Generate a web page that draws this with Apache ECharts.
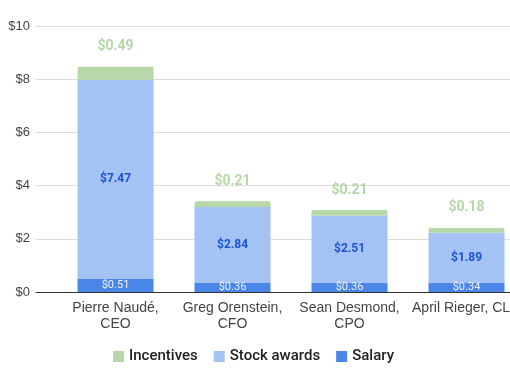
<!DOCTYPE html>
<html><head><meta charset="utf-8">
<script src="https://cdn.jsdelivr.net/npm/echarts@6/dist/echarts.min.js"></script>
<style>html,body{margin:0;padding:0;background:#fff;overflow:hidden;width:510px;height:382px}#c{width:525px;height:382px}</style>
</head><body><div id="c"></div>
<script>
var categories = ['Pierre Naudé,\nCEO', 'Greg Orenstein,\nCFO', 'Sean Desmond,\nCPO', 'April Rieger, CLO'];
var salary = [0.51, 0.36, 0.36, 0.34];
var stockAwards = [7.47, 2.84, 2.51, 1.89];
var incentives = [0.49, 0.21, 0.21, 0.18];
var yTicks = [0, 2, 4, 6, 8, 10];

var chart = echarts.init(document.getElementById('c'));
var fmt = function (p) { return '$' + p.value.toFixed(2); };
var axisFont = 'Arial, "Liberation Sans", sans-serif';
chart.setOption({
  animation: false,
  grid: [
    { left: 57, right: 0, top: 26, bottom: 90 },
    { left: 36, right: 15, top: 26, bottom: 90 }
  ],
  legend: {
    bottom: 13, left: 108,
    data: ['Incentives', 'Stock awards', 'Salary'],
    icon: 'rect', itemWidth: 11, itemHeight: 11, itemGap: 16,
    textStyle: { fontFamily: 'Roboto, Arial, sans-serif', fontSize: 15, fontWeight: 500, color: '#222' }
  },
  xAxis: [
    { type: 'category', gridIndex: 0, data: categories,
      axisLine: { show: false }, axisTick: { show: false },
      axisLabel: { color: '#444', fontSize: 14, fontFamily: axisFont, lineHeight: 16, margin: 8, interval: 0 } },
    { type: 'value', gridIndex: 1, show: true, min: 0, max: 1,
      axisLabel: { show: false }, axisTick: { show: false }, splitLine: { show: false },
      axisLine: { show: true, lineStyle: { color: '#333', width: 1 } } }
  ],
  yAxis: [
    { type: 'value', gridIndex: 0, min: yTicks[0], max: yTicks[yTicks.length - 1], interval: 2, show: false },
    { type: 'value', gridIndex: 1, min: yTicks[0], max: yTicks[yTicks.length - 1], interval: 2,
      axisLine: { show: false }, axisTick: { show: false },
      axisLabel: { color: '#444', fontSize: 13, fontFamily: axisFont, margin: 6, formatter: function (v) { return '$' + v; } },
      splitLine: { lineStyle: { color: '#dcdcdc', width: 1 } } }
  ],
  series: [
    { name: 'Salary', type: 'bar', stack: 's', data: salary, barWidth: 76, xAxisIndex: 0, yAxisIndex: 0,
      itemStyle: { color: '#4a86e8' },
      label: { show: true, position: 'inside', formatter: fmt, color: 'rgba(255,255,255,0.9)', fontSize: 11, fontFamily: 'Roboto, sans-serif' } },
    { name: 'Stock awards', type: 'bar', stack: 's', data: stockAwards, barWidth: 76, xAxisIndex: 0, yAxisIndex: 0,
      itemStyle: { color: '#a4c2f4' },
      label: { show: true, position: 'inside', formatter: fmt, color: '#1a55d0', fontSize: 12, fontWeight: 'bold', fontFamily: 'Roboto, sans-serif' } },
    { name: 'Incentives', type: 'bar', stack: 's', data: incentives, barWidth: 76, xAxisIndex: 0, yAxisIndex: 0,
      itemStyle: { color: '#b6d7a8', borderRadius: [2, 2, 0, 0] },
      label: { show: true, position: 'top', distance: 13, formatter: fmt, color: '#b6d7a8', fontSize: 14, fontWeight: 'bold', fontFamily: 'Roboto, sans-serif' } }
  ]
});
</script></body></html>
